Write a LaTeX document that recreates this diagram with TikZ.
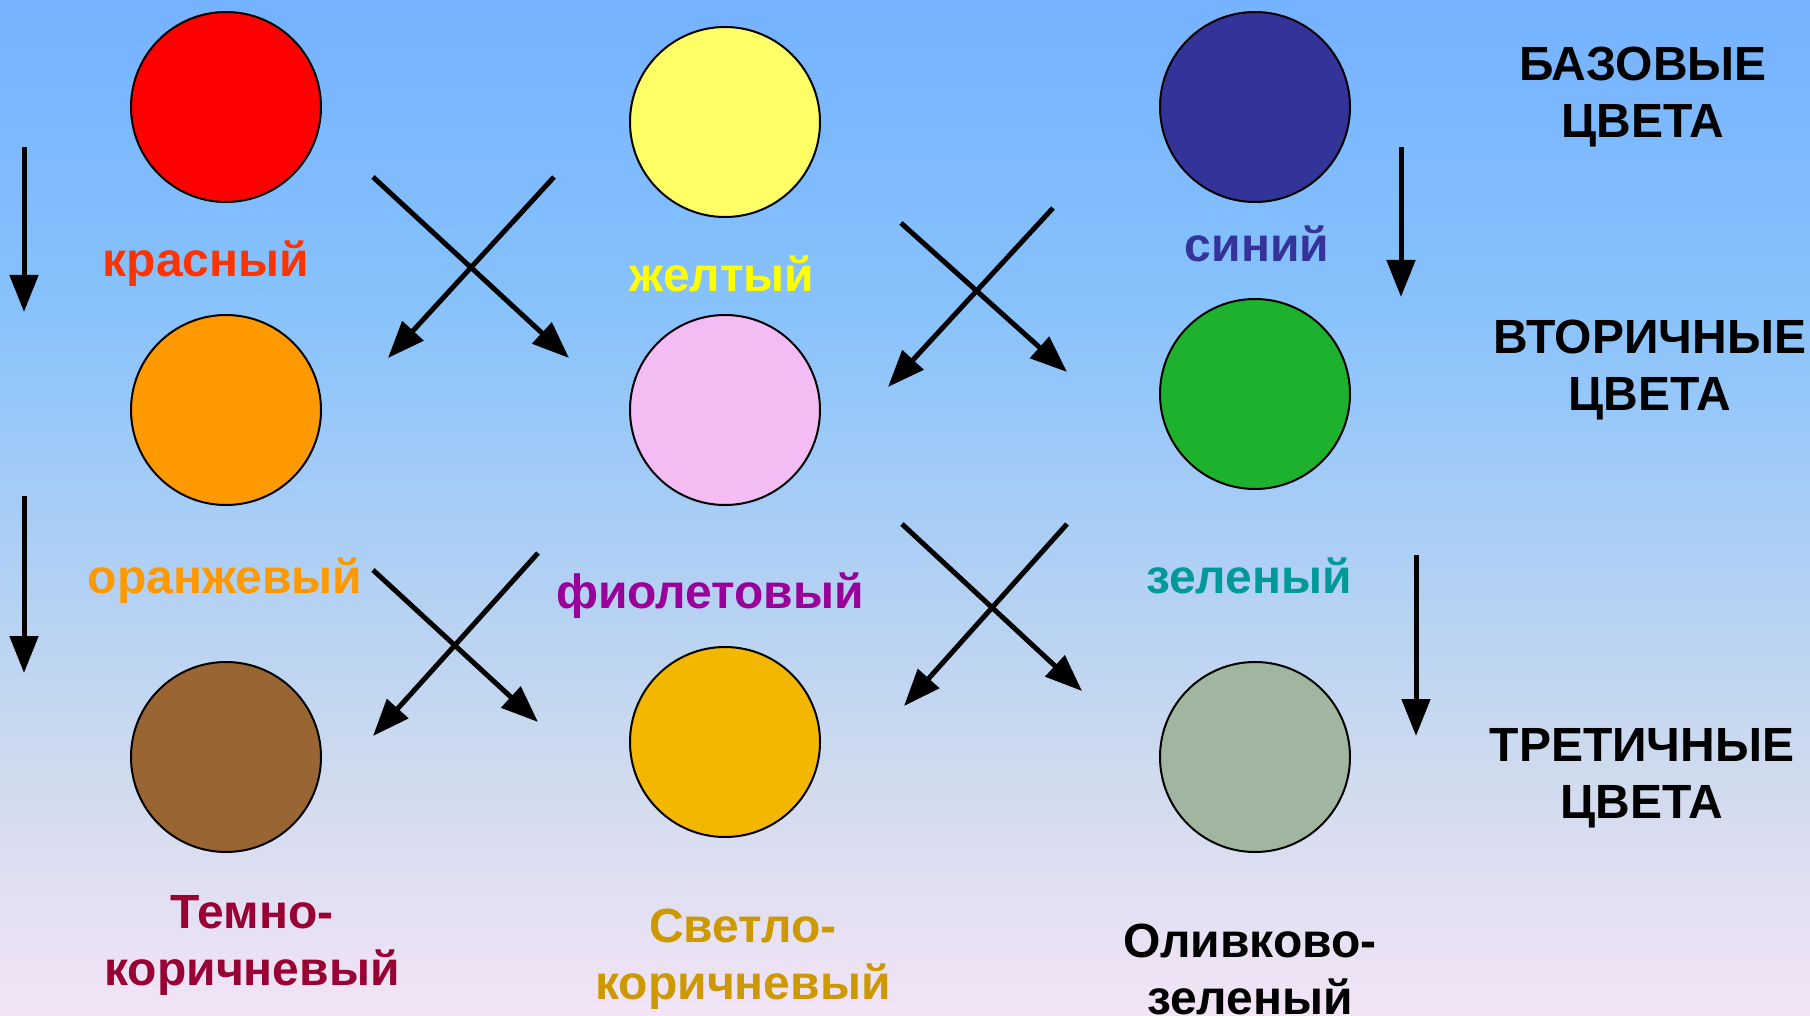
\documentclass[tikz,border=0pt]{standalone}
\usepackage{fontspec}
\setmainfont{Liberation Sans}
\usetikzlibrary{arrows.meta}
\definecolor{bgA}{RGB}{117,178,255}
\definecolor{bgB}{RGB}{135,194,252}
\definecolor{bgC}{RGB}{208,219,238}
\definecolor{bgD}{RGB}{243,228,246}
\definecolor{cRed}{RGB}{255,0,0}
\definecolor{cYellow}{RGB}{255,255,102}
\definecolor{cBlue}{RGB}{51,51,153}
\definecolor{cOrange}{RGB}{255,153,0}
\definecolor{cPink}{RGB}{243,188,243}
\definecolor{cGreen}{RGB}{30,177,45}
\definecolor{cBrown}{RGB}{153,102,51}
\definecolor{cLOrange}{RGB}{244,183,0}
\definecolor{cOlive}{RGB}{160,182,160}
\definecolor{tRed}{RGB}{255,51,0}
\definecolor{tYellow}{RGB}{255,255,0}
\definecolor{tBlue}{RGB}{51,51,153}
\definecolor{tOrange}{RGB}{255,153,0}
\definecolor{tViolet}{RGB}{153,0,153}
\definecolor{tTeal}{RGB}{0,153,153}
\definecolor{tDBrown}{RGB}{153,0,51}
\definecolor{tLBrown}{RGB}{204,153,0}
\begin{document}
\begin{tikzpicture}[x=1pt,y=-1pt,
  swatch/.style={circle,draw=black,line width=2pt,minimum size=190pt,inner sep=0pt},
  lbl/.style={font=\fontsize{48}{57}\selectfont\bfseries,inner sep=0pt,anchor=base,align=center},
  arr/.style={line width=5pt,-{Triangle[length=37pt,width=28pt]}}]
\useasboundingbox (0,0) rectangle (1810,1016);
% background
\shade[top color=bgA,bottom color=bgB] (0,0) rectangle (1810,300.5);
\shade[top color=bgB,bottom color=bgC] (0,300) rectangle (1810,780.5);
\shade[top color=bgC,bottom color=bgD] (0,780) rectangle (1810,1016);
% swatches
\node[swatch,fill=cRed] (red) at (226,107) {};
\node[swatch,fill=cYellow] (yellow) at (725,122) {};
\node[swatch,fill=cBlue] (blue) at (1255,107) {};
\node[swatch,fill=cOrange] (orange) at (226,410) {};
\node[swatch,fill=cPink] (pink) at (725,410) {};
\node[swatch,fill=cGreen] (green) at (1255,394) {};
\node[swatch,fill=cBrown] (brown) at (226,757) {};
\node[swatch,fill=cLOrange] (lorange) at (725,742) {};
\node[swatch,fill=cOlive] (olive) at (1255,757) {};
% labels (anchor base = baseline of the last line)
\node[lbl,text=tRed] (lred) at (206,277) {красный};
\node[lbl,text=tYellow] (lyellow) at (722,292) {желтый};
\node[lbl,text=tBlue] (lblue) at (1257,262) {синий};
\node[lbl,text=tOrange] (lorangel) at (225,593) {оранжевый};
\node[lbl,text=tViolet] (lviolet) at (710,608) {фиолетовый};
\node[lbl,text=tTeal] (lgreen) at (1249,593) {зеленый};
\node[lbl,text=tDBrown] (lbrown) at (252,985) {Темно-\\коричневый};
\node[lbl,text=tLBrown] (llorange) at (743,999) {Светло-\\коричневый};
\node[lbl,text=black] (lolive) at (1250,1014) {Оливково-\\зеленый};
\node[lbl,text=black] (hbase) at (1643,138) {БАЗОВЫЕ\\ЦВЕТА};
\node[lbl,text=black] (hsec) at (1650,410) {ВТОРИЧНЫЕ\\ЦВЕТА};
\node[lbl,text=black] (hter) at (1642,818) {ТРЕТИЧНЫЕ\\ЦВЕТА};
% arrow end points
\coordinate (l1a) at (24,147); \coordinate (l1b) at (24,312);
\coordinate (l2a) at (24,496); \coordinate (l2b) at (24,673);
\coordinate (r1a) at (1401,147); \coordinate (r1b) at (1401,297);
\coordinate (r2a) at (1416,555); \coordinate (r2b) at (1416,736);
\coordinate (c1a) at (373,177); \coordinate (c1b) at (569,358);
\coordinate (c1c) at (554,177); \coordinate (c1d) at (388,358);
\coordinate (c2a) at (901,223); \coordinate (c2b) at (1067,372);
\coordinate (c2c) at (1053,208); \coordinate (c2d) at (888,387);
\coordinate (c3a) at (373,570); \coordinate (c3b) at (538,722);
\coordinate (c3c) at (538,553); \coordinate (c3d) at (373,736);
\coordinate (c4a) at (902,524); \coordinate (c4b) at (1082,691);
\coordinate (c4c) at (1067,524); \coordinate (c4d) at (904,706);
% arrows
\draw[arr] (l1a) -- (l1b);
\draw[arr] (l2a) -- (l2b);
\draw[arr] (r1a) -- (r1b);
\draw[arr] (r2a) -- (r2b);
\draw[arr] (c1a) -- (c1b);
\draw[arr] (c1c) -- (c1d);
\draw[arr] (c2a) -- (c2b);
\draw[arr] (c2c) -- (c2d);
\draw[arr] (c3a) -- (c3b);
\draw[arr] (c3c) -- (c3d);
\draw[arr] (c4a) -- (c4b);
\draw[arr] (c4c) -- (c4d);
\end{tikzpicture}
\end{document}
